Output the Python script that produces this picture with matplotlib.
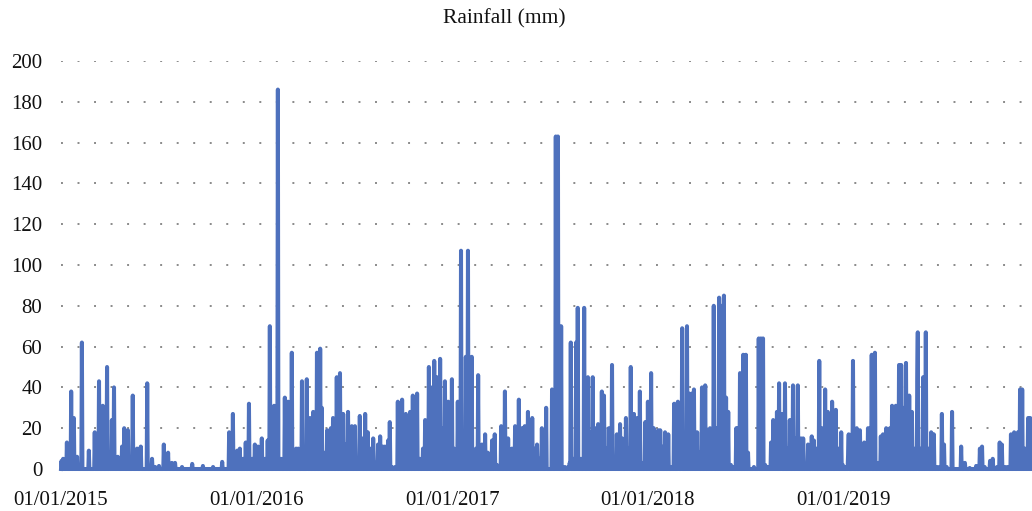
import numpy as np
import pandas as pd
import matplotlib
matplotlib.use('Agg')
import matplotlib.pyplot as plt
import matplotlib.dates as mdates

# daily rainfall: day index since 01/01/2015 and mm
# (days not listed are dry = 0)
rain_day = [1, 4, 11, 19, 24, 30, 39, 52, 63, 71, 78, 86, 91, 95, 99, 106, 114, 118,
            125, 134, 142, 149, 161, 170, 176, 183, 192, 200, 207, 213, 226, 245, 265,
            284, 301, 314, 321, 329, 334, 340, 345, 351, 357, 362,
            # 2016
            368, 375, 381, 386, 390, 398, 405, 411, 418, 424, 431, 435, 439, 443, 450,
            459, 461, 465, 471, 478, 484, 487, 493, 497, 504, 508, 515, 521, 527, 530,
            536, 540, 543, 549, 555, 558, 562, 568, 573, 577, 583, 588, 592, 596, 601,
            605, 611, 614, 618, 624, 629, 637, 644, 652, 657, 665, 670, 676, 680, 687,
            693, 697, 702, 708, 711, 717, 723, 730,
            # 2017
            734, 741, 747, 751, 756, 760, 767, 775, 779, 786, 792, 797, 805, 810, 814,
            822, 829, 835, 842, 848, 855, 861, 866, 872, 880, 885, 889, 894, 898, 906,
            917, 924, 928, 934, 941, 947, 950, 952, 956, 962, 965, 971, 977, 984, 990,
            993, 999, 1003, 1010, 1014, 1020, 1023, 1029, 1033, 1038, 1044, 1048, 1055,
            1059, 1064, 1070, 1076, 1081, 1085, 1091,
            # 2018
            1096, 1102, 1107, 1115, 1119, 1122, 1128, 1134, 1141, 1145, 1152, 1154, 1158,
            1160, 1169, 1173, 1178, 1182, 1188, 1191, 1197, 1203, 1208, 1212, 1216, 1219,
            1225, 1229, 1234, 1238, 1242, 1246, 1251, 1255, 1261, 1264, 1268, 1274, 1279,
            1283, 1294, 1303, 1307, 1311, 1315, 1320, 1326, 1330, 1333, 1337, 1341, 1344,
            1346, 1352, 1358, 1361, 1367, 1373, 1376, 1382, 1386, 1391, 1395, 1402, 1406,
            1410, 1416, 1421, 1427, 1432, 1436, 1440, 1447, 1451, 1457, 1460,
            # 2019
            1466, 1470, 1471, 1477, 1479, 1486, 1492, 1496, 1500, 1507, 1511, 1514, 1520,
            1526, 1531, 1535, 1541, 1548, 1552, 1559, 1565, 1569, 1572, 1578, 1584, 1589,
            1595, 1599, 1600, 1606, 1610, 1615, 1619, 1625, 1630, 1636, 1641, 1645, 1649,
            1654, 1664, 1681, 1688, 1697, 1709, 1716, 1720, 1725, 1735, 1740, 1748, 1753,
            1757, 1763, 1768, 1774, 1780, 1787, 1791, 1795, 1800, 1806, 1810, 1813, 1820]
rain_mm = [4, 5, 13, 38, 25, 6, 62, 9, 18, 43, 31, 50, 8, 24, 40, 6, 11, 20,
           19, 36, 10, 11, 42, 5, 1, 1.5, 12, 8, 3, 3, 1, 2.5, 1.5,
           1, 3.5, 18, 27, 9, 10, 5, 13, 32, 5, 12,
           11, 15, 5, 14, 70, 31, 186, 5, 35, 33, 57, 5, 10, 10, 43,
           44, 5, 25, 28, 57, 59, 30, 8, 19, 20, 25, 45, 47, 27, 12,
           28, 10, 21, 21, 5, 26, 15, 27, 18, 10, 15, 3, 12, 16, 11,
           11, 14, 23, 1, 1, 33, 34, 27, 28, 36, 37, 5, 10, 24, 50,
           40, 53, 45, 54, 20, 43, 33, 44,
           10, 33, 107, 5, 55, 107, 55, 10, 46, 12, 17, 8, 14, 17, 2,
           21, 38, 15, 10, 21, 34, 20, 21, 28, 25, 10, 12, 5, 20, 30,
           39, 163, 163, 70, 1, 1, 3, 62, 5, 62, 79, 5, 79, 45, 18,
           45, 20, 22, 38, 36, 10, 20, 51, 5, 17, 22, 15, 25,
           10, 50, 27, 25, 38, 3, 23,
           33, 47, 20, 19, 19, 11, 18, 17, 1, 32, 33, 5, 19,
           69, 70, 37, 37, 39, 18, 8, 40, 41, 19, 20, 19, 80,
           20, 84, 80, 85, 35, 28, 2, 1, 20, 20, 47, 56, 56,
           8, 1, 64, 64, 64, 2, 1, 13, 24, 10, 28, 42, 21,
           27, 42, 10, 24, 41, 15, 41, 15, 15, 1, 12, 16, 14,
           10, 53, 20, 39, 28, 20, 33, 29, 10, 18, 2,
           1, 8, 17, 17, 53, 20, 19, 10, 13, 20, 20, 56, 57,
           3, 16, 17, 20, 20, 31, 31, 51, 51, 30, 52, 36, 28,
           10, 44, 67, 10, 45, 67, 10, 18, 17, 1, 1, 27, 12,
           1, 28, 11, 3, 0.5, 1.5, 10, 11, 1, 4, 5, 1, 13,
           12, 1, 1, 17, 18, 18, 39, 39, 10, 25, 25, 10, 5]

year_ticks = ['2015-01-01', '2016-01-01', '2017-01-01', '2018-01-01', '2019-01-01']

dates = pd.date_range('2015-01-01', '2019-12-31', freq='D')
rain = np.zeros(len(dates))
rain[rain_day] = rain_mm

plt.rcParams['font.family'] = ['Liberation Serif', 'DejaVu Serif']

W, H = 1032, 511
fig = plt.figure(figsize=(W / 100, H / 100), dpi=100)
ax = fig.add_axes([61 / W, (H - 469) / H, 977.8 / W, 408 / H])

ax.plot(dates, rain, color='#4E71BD', lw=2.9, solid_joinstyle='round', clip_on=False, zorder=3)

ax.set_ylim(0, 200)
ax.set_xlim(pd.Timestamp('2015-01-01'), pd.Timestamp('2020-01-01'))
ax.set_yticks(range(0, 201, 20))
ax.set_xticks(pd.to_datetime(year_ticks))
ax.xaxis.set_major_formatter(mdates.DateFormatter('%d/%m/%Y'))
ax.tick_params(length=0, labelsize=15, colors='#111111')
ax.tick_params(axis='y', pad=13.5)
ax.tick_params(axis='x', pad=16)
for lab in ax.get_yticklabels():
    lab.set_horizontalalignment('right')

ax.grid(axis='y', color='#8a8a8a', lw=1.4, linestyle=(0, (1, 7.5)))
ax.grid(axis='x', visible=False)
for s in ax.spines.values():
    s.set_visible(False)

fig.text(504 / W, 1 - 19 / H, 'Rainfall (mm)', ha='center', va='center', fontsize=15.5, color='#111111')

fig.savefig('out.png', dpi=100)
